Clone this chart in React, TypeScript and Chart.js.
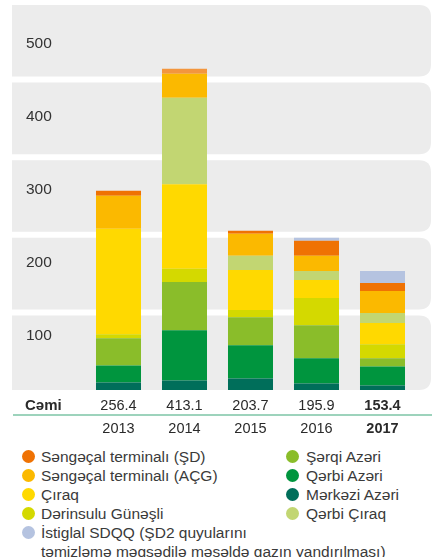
import React, { useEffect, useRef } from 'react';
import { Chart, registerables } from 'chart.js';

Chart.register(...registerables);

// ---- data ----
const years = ['2013', '2014', '2015', '2016', '2017'];
const totals = ['256.4', '413.1', '203.7', '195.9', '153.4'];
const totalLabel = 'Cəmi';
const yTickValues = [100, 200, 300, 400, 500];

// series values (bottom of stack to top)
const merkeziAzeri = [9.7, 12.3, 14.9, 8.4, 5.8];
const qerbiAzeri = [22.0, 64.8, 42.7, 32.4, 24.6];
const serqiAzeri = [35.0, 62.2, 36.3, 42.7, 10.4];
const derinsuluGunesli = [5.0, 16.8, 9.1, 35.0, 18.1];
const ciraq = [136.0, 109.2, 51.8, 23.3, 27.6];
const qerbiCiraq = [0, 111.4, 18.1, 11.7, 12.6];
const sengecalACG = [42.7, 30.7, 28.5, 19.4, 28.5];
const sengecalSD = [6.5, 6.5, 3.9, 19.4, 10.4];
const istiglal = [0, 0, 0, 3.9, 15.5];

const FONT = "'Liberation Sans', Arial, Helvetica, sans-serif";
const TEXT = '#2a2a2a';

type Series = { key: string; label: string; data: number[]; color: string | string[]; swatch: string };

const series: Series[] = [
  { key: 'merkezi', label: 'Mərkəzi Azəri', data: merkeziAzeri, color: '#006e5a', swatch: '#006e5a' },
  { key: 'qerbiAzeri', label: 'Qərbi Azəri', data: qerbiAzeri, color: '#00953e', swatch: '#00953e' },
  { key: 'serqi', label: 'Şərqi Azəri', data: serqiAzeri, color: '#8abd2a', swatch: '#8abd2a' },
  { key: 'derinsulu', label: 'Dərinsulu Günəşli', data: derinsuluGunesli, color: '#d4d900', swatch: '#d4d900' },
  { key: 'ciraq', label: 'Çıraq', data: ciraq, color: '#ffd900', swatch: '#ffd900' },
  { key: 'qerbiCiraq', label: 'Qərbi Çıraq', data: qerbiCiraq, color: '#c2d672', swatch: '#c2d672' },
  { key: 'acg', label: 'Səngəçal terminalı (AÇG)', data: sengecalACG, color: '#fbb900', swatch: '#fbb900' },
  { key: 'sd', label: 'Səngəçal terminalı (ŞD)', data: sengecalSD, color: ['#ef7203', '#f3963e', '#ef7203', '#ef7203', '#ef7203'], swatch: '#ef7203' },
  { key: 'istiglal', label: 'İstiglal SDQQ (ŞD2 quyularını\ntəmizləmə məqsədilə məşəldə qazın yandırılması)', data: istiglal, color: '#b5c3e0', swatch: '#b5c3e0' },
];

const legendColumns: string[][] = [
  ['sd', 'acg', 'ciraq', 'derinsulu', 'istiglal'],
  ['serqi', 'qerbiAzeri', 'merkezi', 'qerbiCiraq'],
];

const bandsPlugin = {
  id: 'bands',
  beforeDraw(chart: any) {
    const { ctx } = chart;
    const y = chart.scales.y;
    const left = 12;
    const right = chart.width - 1;
    const r = 12;
    ctx.save();
    ctx.fillStyle = '#ececec';
    for (let k = 0; k < 5; k++) {
      const top = y.getPixelForValue((k + 1) * 100) + 3;
      const bottom = k === 0 ? y.getPixelForValue(0) : y.getPixelForValue(k * 100) - 3;
      ctx.beginPath();
      ctx.moveTo(left, top);
      ctx.lineTo(right - r, top);
      ctx.quadraticCurveTo(right, top, right, top + r);
      ctx.lineTo(right, bottom - r);
      ctx.quadraticCurveTo(right, bottom, right - r, bottom);
      ctx.lineTo(left, bottom);
      ctx.closePath();
      ctx.fill();
    }
    ctx.restore();
  },
  afterDraw(chart: any) {
    const { ctx } = chart;
    const x = chart.scales.x;
    ctx.save();
    ctx.fillStyle = TEXT;
    ctx.font = `bold 15px ${FONT}`;
    ctx.textAlign = 'left';
    ctx.textBaseline = 'middle';
    ctx.fillText(totalLabel, 25, x.top + 16);
    ctx.strokeStyle = '#7cc4a6';
    ctx.lineWidth = 1.5;
    ctx.beginPath();
    ctx.moveTo(13, x.top + 25);
    ctx.lineTo(chart.width, x.top + 25);
    ctx.stroke();
    ctx.restore();
  },
};

function ChartCanvas() {
  const ref = useRef<HTMLCanvasElement | null>(null);
  useEffect(() => {
    if (!ref.current) return;
    const chart = new Chart(ref.current, {
      type: 'bar',
      data: {
        labels: years.map((yr, i) => [totals[i], yr]),
        datasets: series.map((s) => ({
          label: s.label,
          data: s.data,
          backgroundColor: s.color as any,
          borderWidth: 0,
          barPercentage: 0.682,
          categoryPercentage: 1,
          yAxisID: 'y',
        })),
      },
      options: {
        responsive: false,
        animation: false,
        maintainAspectRatio: false,
        layout: { padding: { top: 2, left: 26, right: 16.5, bottom: 1 } },
        plugins: { legend: { display: false }, tooltip: { enabled: false } },
        scales: {
          x: {
            stacked: true,
            grid: { display: false, drawTicks: false, tickLength: 0 },
            border: { display: false },
            ticks: {
              padding: 4,
              color: TEXT,
              maxRotation: 0,
              autoSkip: false,
              font: (c: any) => ({ family: FONT, size: 14.5, lineHeight: '23px', weight: c.index === 4 ? 'bold' : 'normal' }),
            },
          },
          y: {
            display: false,
            stacked: true,
            min: 0,
            max: 500,
          },
          y2: {
            position: 'left',
            min: 24.8,
            max: 558,
            grid: { display: false, drawTicks: false, tickLength: 0 },
            border: { display: false },
            afterBuildTicks: (s: any) => {
              s.ticks = yTickValues.map((v) => ({ value: v }));
            },
            afterFit: (s: any) => {
              s.width = 59.5;
              s.paddingTop = 0;
              s.paddingBottom = 0;
            },
            ticks: {
              crossAlign: 'far',
              padding: 0,
              color: '#333',
              font: { family: FONT, size: 15.5 },
              callback: (v: any) => String(v),
            },
          },
        },
      },
      plugins: [bandsPlugin],
    } as any);
    return () => chart.destroy();
  }, []);
  return <canvas ref={ref} width={432} height={445} style={{ width: 432, height: 445, display: 'block' }} />;
}

function Legend() {
  const byKey: Record<string, Series> = {};
  series.forEach((s) => (byKey[s.key] = s));
  const colLayout = [
    { circleLeft: 22, textLeft: 41 },
    { circleLeft: 285.5, textLeft: 306 },
  ];
  return (
    <div style={{ position: 'absolute', top: 446.5, left: 0, width: 432 }}>
      {legendColumns.map((col, ci) => (
        <div key={ci} style={{ position: 'absolute', top: 0, left: 0 }}>
          {col.map((k) => {
            const s = byKey[k];
            return (
              <div key={k} style={{ position: 'relative', height: 'auto', minHeight: 19 }}>
                <span
                  style={{
                    position: 'absolute',
                    left: colLayout[ci].circleLeft,
                    top: 3,
                    width: 13,
                    height: 13,
                    borderRadius: '50%',
                    background: s.swatch,
                  }}
                />
                <div
                  style={{
                    marginLeft: colLayout[ci].textLeft,
                    font: `15.5px ${FONT}`,
                    lineHeight: '19px',
                    color: '#3a3a3a',
                    whiteSpace: 'pre',
                  }}
                >
                  {s.label}
                </div>
              </div>
            );
          })}
        </div>
      ))}
    </div>
  );
}

export default function App() {
  return (
    <div style={{ position: 'absolute', top: 0, left: 0, width: 432, height: 557, overflow: 'hidden', background: '#fff' }}>
      <ChartCanvas />
      <Legend />
    </div>
  );
}
